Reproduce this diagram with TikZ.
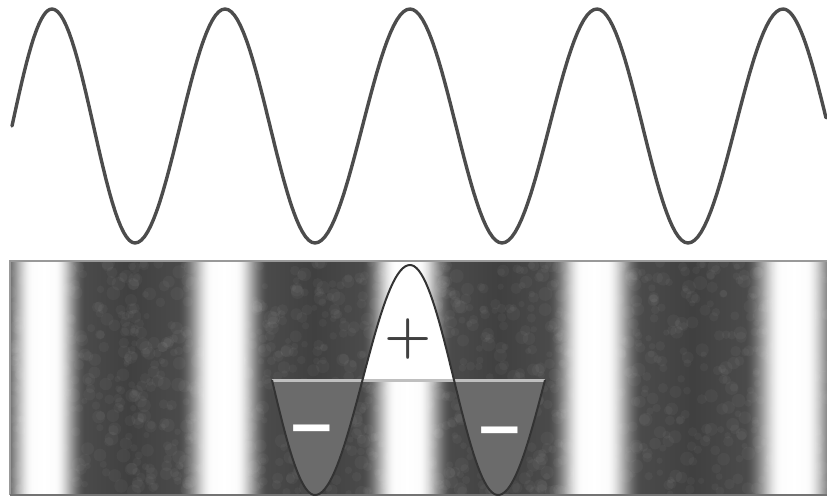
\documentclass[tikz,border=0pt]{standalone}
\usepackage{fontspec}
\newfontfamily\dejavu{DejaVu Sans}
\begin{document}
\begin{tikzpicture}[x=0.5pt,y=-0.5pt,
  wave/.style={draw=black!70, line width=1.7pt, line join=round, line cap=round},
  outline/.style={draw=black!80, line width=1pt, line join=round},
  level/.style={draw=black!25, line width=1.5pt},
  trough/.style={fill=black!58},
  crest/.style={fill=white},
  grain/.style={fill=white, opacity=0.035},
  bandedge/.style={draw=black!40, line width=1pt},
  plussign/.style={font=\bfseries\fontsize{27}{27}\selectfont, text=black!75, inner sep=0pt},
  minussign/.style={font=\dejavu\bfseries\fontsize{29}{29}\selectfont, text=white, inner sep=0pt},
  lobes/.style={insert path={(272,380)
     -- plot[domain=272:315, samples=25, variable=\t] (\t,{380+115*sin(90*((\t-272)/43))})
     -- plot[domain=315:410, samples=40, variable=\t] (\t,{380+115*cos(180*((\t-315)/95))})
     -- plot[domain=410:498, samples=40, variable=\t] (\t,{380-115*cos(180*((\t-410)/88))})
     -- plot[domain=498:545, samples=25, variable=\t] (\t,{380+115*cos(90*((\t-498)/47))})}}]
\useasboundingbox (0,0) rectangle (827,502);

% top wave
\draw[wave] (12,126)
  -- plot[domain=12:52, samples=20, variable=\t] (\t,{126-117*sin(90*((\t-12)/40))})
  -- plot[domain=52:135, samples=30, variable=\t] (\t,{126-117*cos(180*((\t-52)/83))})
  -- plot[domain=135:225, samples=30, variable=\t] (\t,{126+117*cos(180*((\t-135)/90))})
  -- plot[domain=225:315, samples=30, variable=\t] (\t,{126-117*cos(180*((\t-225)/90))})
  -- plot[domain=315:410, samples=30, variable=\t] (\t,{126+117*cos(180*((\t-315)/95))})
  -- plot[domain=410:502, samples=30, variable=\t] (\t,{126-117*cos(180*((\t-410)/92))})
  -- plot[domain=502:597, samples=30, variable=\t] (\t,{126+117*cos(180*((\t-502)/95))})
  -- plot[domain=597:688, samples=30, variable=\t] (\t,{126-117*cos(180*((\t-597)/91))})
  -- plot[domain=688:783, samples=30, variable=\t] (\t,{126+117*cos(180*((\t-688)/95))})
  -- plot[domain=783:826, samples=20, variable=\t] (\t,{126-117*cos(180*((\t-783)/90))});

% striped band
\foreach \xs/\xe/\a/\b/\p in {10/45/-45/45/180, 45/130/45/130/0, 130/225/130/225/180,
   225/315/225/315/0, 315/408/315/408/180, 408/500/408/500/0, 500/595/500/595/180,
   595/693/595/693/0, 693/795/693/795/180, 795/827/795/890/0}{
  \foreach \x in {\xs,...,\xe}{
    \pgfmathsetmacro\cv{cos(\p+180*((\x-\a)/(\b-\a)))}
    \pgfmathsetmacro\ph{acos(max(-1,min(1,\cv)))}
    \pgfmathsetmacro\gv{\ph<22 ? 1 : (\ph>88 ? 0 : 0.5+0.5*cos(180*((\ph-22)/66)))}
    \pgfmathsetmacro\vv{25+8*(180-\ph)/180+67*\gv}
    \fill[white!\vv!black] (\x-0.6,261) rectangle (\x+0.6,495);
  }
}
% soft mottling
\begin{scope}
  \clip (10,262) rectangle (827,494);
  \pgfmathsetseed{7}
  \foreach \i in {1,...,1500}{
    \pgfmathsetmacro\rx{10+817*rnd}
    \pgfmathsetmacro\ry{262+232*rnd}
    \pgfmathsetmacro\rr{3+4*rnd}
    \fill[grain] (\rx,\ry) circle (\rr);
  }
\end{scope}
\draw[bandedge] (827,261) -- (10,261) -- (10,495);
\draw[bandedge, draw=black!55, line width=1.3pt] (10,495) -- (827,495);

% lobes
\begin{scope}
  \clip (0,380) rectangle (827,502);
  \fill[trough, lobes] -- cycle;
\end{scope}
\begin{scope}
  \clip (0,0) rectangle (827,380);
  \fill[crest, lobes] -- cycle;
\end{scope}
\draw[level] (272,381) -- (545,381);
\draw[outline, lobes];

\node[plussign] (plus) at (408,339) {+};
\node[minussign] (minusL) at (312,436) {−};
\node[minussign] (minusR) at (500,438) {−};
\end{tikzpicture}
\end{document}
